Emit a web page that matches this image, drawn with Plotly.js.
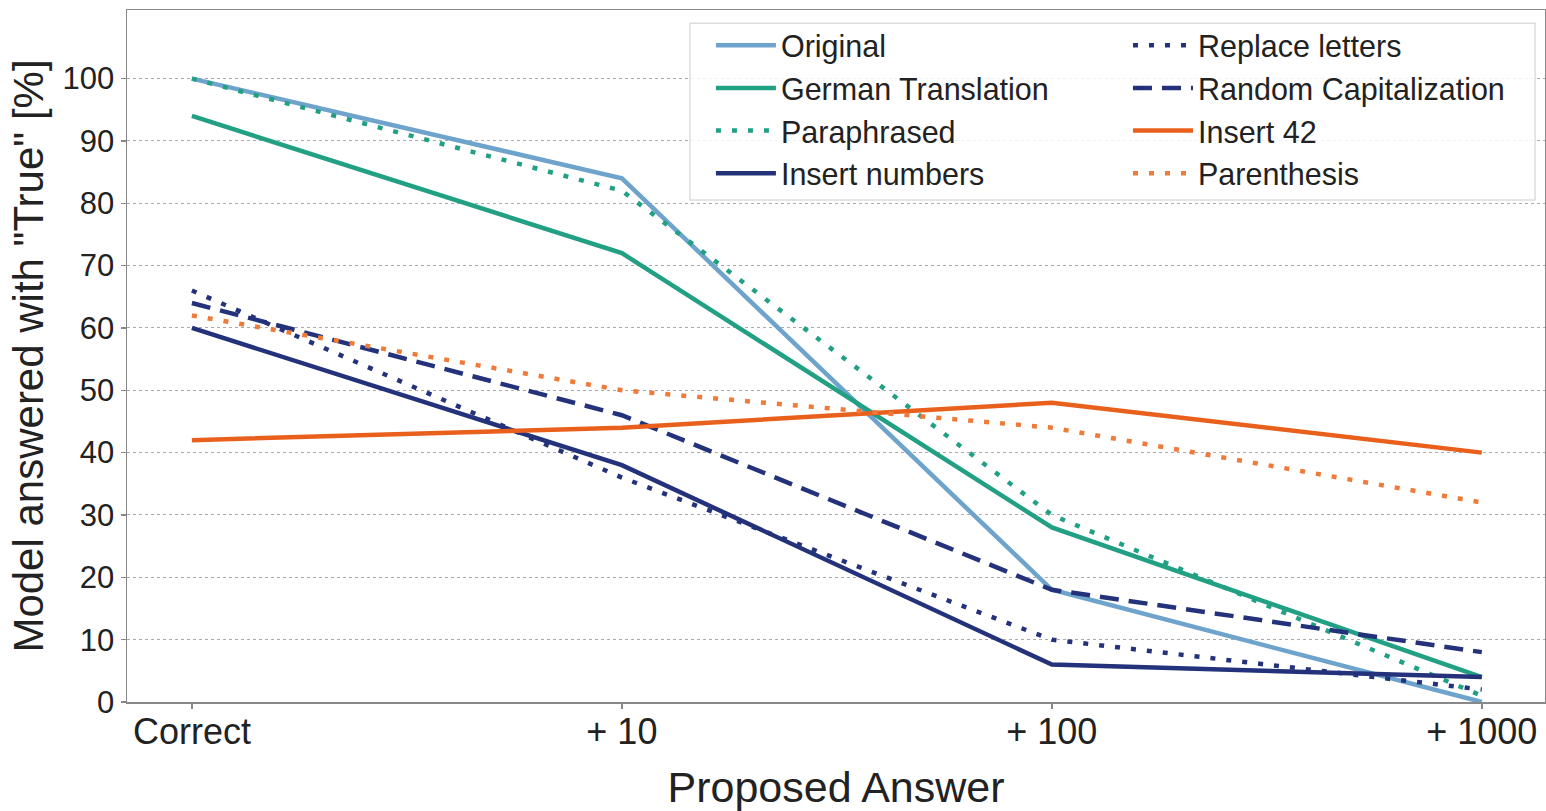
<!DOCTYPE html>
<html>
<head>
<meta charset="utf-8">
<script src="https://cdn.plot.ly/plotly-3.0.1.min.js"></script>
<style>html,body{margin:0;padding:0;background:#fff;}#chart{width:1546px;height:811px;}</style>
</head>
<body>
<div id="chart"></div>
<script>
const categories = ["Correct", "+ 10", "+ 100", "+ 1000"];
const original = [100, 84, 18, 0];
const germanTranslation = [94, 72, 28, 4];
const paraphrased = [100, 82, 30, 1];
const insertNumbers = [60, 38, 6, 4];
const replaceLetters = [66, 36, 10, 2];
const randomCapitalization = [64, 46, 18, 8];
const insert42 = [42, 44, 48, 40];
const parenthesis = [62, 50, 44, 32];
const yTicks = [0, 10, 20, 30, 40, 50, 60, 70, 80, 90, 100];

const DOT = "5px,11px";
const DASH = "19px,10px";
function tr(name, y, color, dash, leg) {
  return {
    type: "scatter", mode: "lines", name: name, x: categories, y: y,
    line: {color: color, width: 4.5, dash: dash},
    legend: leg
  };
}
const data = [
  tr("Original", original, "#6ea3cc", "solid", "legend"),
  tr("German Translation", germanTranslation, "#22a084", "solid", "legend"),
  tr("Paraphrased", paraphrased, "#22a084", DOT, "legend"),
  tr("Insert numbers", insertNumbers, "#23327a", "solid", "legend"),
  tr("Replace letters", replaceLetters, "#23327a", DOT, "legend2"),
  tr("Random Capitalization", randomCapitalization, "#23327a", DASH, "legend2"),
  tr("Insert 42", insert42, "#e8601c", "solid", "legend2"),
  tr("Parenthesis", parenthesis, "#ef7b3a", DOT, "legend2")
];
const legendBase = {
  yanchor: "top", xanchor: "left", orientation: "v",
  itemwidth: 60, tracegroupgap: 0,
  font: {size: 30.5, color: "#222"},
  bgcolor: "rgba(0,0,0,0)", borderwidth: 0
};
const layout = {
  width: 1546, height: 811,
  margin: {l: 127, r: 1, t: 10, b: 109},
  paper_bgcolor: "#fff", plot_bgcolor: "#fff",
  font: {family: "Liberation Sans, Arial, sans-serif", color: "#222"},
  showlegend: true,
  legend: Object.assign({}, legendBase, {x: 0.4118, y: 0.987}),
  legend2: Object.assign({}, legendBase, {x: 0.7059, y: 0.987}),
  shapes: [{
    type: "rect", xref: "paper", yref: "paper", layer: "above",
    x0: 0.397, x1: 0.993, y0: 0.7254, y1: 0.981,
    line: {color: "#dddddd", width: 1.5},
    fillcolor: "rgba(255,255,255,0.85)"
  }],
  xaxis: {
    type: "category", range: [-0.151, 3.147],
    showgrid: false, zeroline: false,
    showline: true, linecolor: "#888", linewidth: 1.5, mirror: true,
    ticks: "outside", ticklen: 5, tickwidth: 1.5, tickcolor: "#888",
    ticklabelstandoff: -8,
    tickfont: {size: 36, color: "#222"},
    title: {text: "Proposed Answer", font: {size: 43, color: "#222"}, standoff: 22}
  },
  yaxis: {
    range: [0, 111], tickvals: yTicks, ticktext: yTicks.map(String),
    showgrid: true, gridcolor: "#aaaaaa", gridwidth: 1, griddash: "dot",
    zeroline: false,
    showline: true, linecolor: "#888", linewidth: 1.5, mirror: true,
    ticks: "outside", ticklen: 5, tickwidth: 1.5, tickcolor: "#888",
    tickfont: {size: 31, color: "#222"},
    title: {text: "Model answered with \"True\" [%]", font: {size: 42, color: "#222"}, standoff: 6}
  }
};
Plotly.newPlot("chart", data, layout, {displayModeBar: false, staticPlot: true});
</script>
</body>
</html>
